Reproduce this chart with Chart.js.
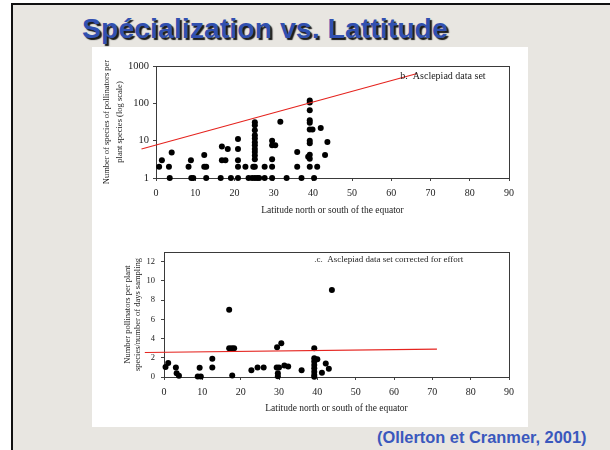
<!DOCTYPE html>
<html>
<head>
<meta charset="utf-8">
<script src="https://cdn.jsdelivr.net/npm/chart.js@4.4.1/dist/chart.umd.min.js"></script>
<style>
  html, body { margin: 0; padding: 0; }
  body { width: 610px; height: 450px; position: relative; overflow: hidden; background: #fff; }
  #slide { position: absolute; left: 11px; top: 3px; width: 640px; height: 480px;
           background: #e8e6e1; border-left: 2px solid #111; border-top: 2px solid #111; }
  #title { position: absolute; left: 82px; top: 14px; margin: 0; white-space: nowrap;
           font: bold 28.5px "Liberation Sans", Arial, sans-serif; line-height: 1;
           color: #3150b0; text-shadow: 2px 2px 1px #1a1a1a; }
  #panel { position: absolute; left: 92px; top: 47px; width: 436px; height: 380px; background: #fff; }
  #cite { position: absolute; left: 377px; top: 429px; white-space: nowrap;
          font: bold 16.4px "Liberation Sans", Arial, sans-serif; line-height: 1; color: #3a58bd; }
  canvas { position: absolute; }
</style>
</head>
<body>
<div id="slide"></div>
<div id="title">Spécialization vs. Lattitude</div>
<div id="panel"></div>
<canvas id="topChart" width="436" height="172" style="left:92px;top:50px"></canvas>
<canvas id="botChart" width="436" height="180" style="left:92px;top:240px"></canvas>
<div id="cite">(Ollerton et Cranmer, 2001)</div>

<script>
// b. Asclepiad data set (log scale)
const topLat = [
  0.8, 1.5, 3.3, 3.5, 4, 8.3, 8.9, 9, 9.5, 12.3, 12.3, 12.8, 12.8,
  16.8, 16.8, 17.7, 18.3, 16.5, 19.1, 20.9, 20.9, 20.9, 20.9, 20.9,
  22.8, 23.6, 24.5, 24.8,
  25.2, 25.2, 25.2, 25.2, 25.2, 25.2, 25.2, 25.2, 25.2, 25.2, 25.2, 25.2, 25.2,
  25.8, 26.3, 27.7, 27.7, 29.6, 29.6, 30.4, 29.6, 29.6, 29.6, 31.7, 33.3,
  36, 36, 37.1,
  39.2, 39.2, 39.2, 39.2, 39.2, 39.2, 39.2, 39.2, 39.2, 39.2, 39.2,
  39.9, 38.8, 40.3, 41.1, 42, 43.1, 43.7
];
const topSpecies = [
  2, 3, 2, 1, 4.8, 2, 3, 1, 1, 4.1, 2, 2, 1,
  7, 3, 3, 6, 1, 1, 11, 6, 3, 2, 1,
  2, 1, 1, 2,
  31, 26, 19, 14, 11.5, 9, 7.5, 6, 5, 4, 3.2, 2, 1,
  1, 1, 2, 1, 10, 7.5, 7.5, 3.2, 2, 1, 32, 1,
  5, 2, 1,
  120, 105, 65, 35, 30, 20, 10, 8.5, 4.2, 3.3, 2,
  20, 3.7, 1, 2, 22, 4.1, 9.2
];
const topFitLat = [-3.7, 66.6];
const topFitSpecies = [6.0, 627];
const topXTicks = [0, 10, 20, 30, 40, 50, 60, 70, 80, 90];
const topYTicks = [1, 10, 100, 1000];

// c. Asclepiad data set corrected for effort
const botLat = [
  0.4, 1.1, 3.1, 3.3, 3.9, 8.8, 9.3, 9.6, 12.6, 12.6,
  17, 17, 17.7, 18.3, 17.8, 22.8, 24.4, 26,
  29.5, 30.6, 29.4, 30, 29.7, 29.7, 31.4, 32.4, 35.9,
  39.2, 39.2, 40, 39.2, 39.2, 39.2, 39.2, 39.2, 39.2,
  41.2, 42.2, 43, 43.8
];
const botRatio = [
  1.05, 1.45, 1.0, 0.4, 0.12, 0.05, 0.95, 0.05, 1.9, 1.0,
  7.0, 3.0, 3.0, 3.0, 0.15, 0.7, 1.0, 1.0,
  3.1, 3.5, 1.0, 1.0, 0.4, 0.08, 1.2, 1.1, 0.7,
  3.0, 1.95, 1.85, 1.6, 1.25, 0.9, 0.55, 0.2, 0.02,
  0.45, 1.4, 0.85, 9.05
];
const botFitLat = [-5, 71.2];
const botFitRatio = [2.55, 2.9];
const botXTicks = [0, 10, 20, 30, 40, 50, 60, 70, 80, 90];
const botYTicks = [0, 2, 4, 6, 8, 10, 12];

const serif = '"Liberation Serif", "Times New Roman", serif';
const ink = '#1c1c1c';

function pairs(xs, ys) {
  return xs.map((x, i) => ({ x: x, y: ys[i] }));
}

// box around the plot area, like the scanned figure
const framePlugin = {
  id: 'frame',
  beforeDatasetsDraw(chart) {
    const a = chart.chartArea;
    const ctx = chart.ctx;
    ctx.save();
    ctx.strokeStyle = '#3a3a3a';
    ctx.lineWidth = 1;
    ctx.strokeRect(Math.round(a.left) + 0.5, Math.round(a.top) + 0.5,
                   Math.round(a.width), Math.round(a.height));
    ctx.restore();
  }
};

// panel label written inside the plot
const notePlugin = {
  id: 'note',
  afterDatasetsDraw(chart, args, opts) {
    if (!opts.text) return;
    const ctx = chart.ctx;
    ctx.save();
    ctx.font = opts.size + 'px ' + serif;
    ctx.fillStyle = ink;
    ctx.textBaseline = 'middle';
    ctx.fillText(opts.text, chart.scales.x.getPixelForValue(opts.lat), chart.chartArea.top + opts.dy);
    ctx.restore();
  }
};

function dots(xs, ys) {
  return {
    data: pairs(xs, ys),
    backgroundColor: '#000',
    borderWidth: 0,
    pointRadius: 3,
    pointHoverRadius: 3,
    clip: false
  };
}

function fitLine(xs, ys) {
  return {
    data: pairs(xs, ys),
    showLine: true,
    borderColor: '#e5231e',
    borderWidth: 1.1,
    pointRadius: 0,
    clip: false
  };
}

function xAxis(ticks, height) {
  return {
    type: 'linear',
    min: ticks[0],
    max: ticks[ticks.length - 1],
    afterBuildTicks: s => { s.ticks = ticks.map(v => ({ value: v })); },
    afterFit: s => { s.height = height; },
    border: { display: false },
    grid: { drawOnChartArea: false, drawTicks: true, tickLength: 3, color: '#444' },
    ticks: { font: { family: serif, size: 10 }, color: ink, padding: 6, maxRotation: 0, autoSkip: false },
    title: {
      display: true,
      text: 'Latitude north or south of the equator',
      font: { family: serif, size: 9.5, lineHeight: 1.2 },
      color: ink,
      padding: { top: 0, bottom: 6 }
    }
  };
}

new Chart(document.getElementById('topChart'), {
  type: 'scatter',
  data: { datasets: [fitLine(topFitLat, topFitSpecies), dots(topLat, topSpecies)] },
  plugins: [framePlugin, notePlugin],
  options: {
    responsive: false,
    animation: false,
    devicePixelRatio: 1,
    layout: { padding: { left: 0, top: 16, right: 19, bottom: 0 } },
    plugins: {
      legend: { display: false },
      tooltip: { enabled: false },
      note: { text: 'b.  Asclepiad data set', lat: 62.3, dy: 10, size: 10 }
    },
    scales: {
      x: xAxis(topXTicks, 44),
      y: {
        type: 'logarithmic',
        min: 1,
        max: 1000,
        afterBuildTicks: s => { s.ticks = topYTicks.map(v => ({ value: v })); },
        afterFit: s => { s.width = 64; },
        border: { display: false },
        grid: { drawOnChartArea: false, drawTicks: true, tickLength: 3, color: '#444' },
        ticks: { font: { family: serif, size: 10.5 }, color: ink, padding: 4, callback: v => String(v) },
        title: {
          display: true,
          text: ['Number of species of pollinators per', 'plant species (log scale)'],
          font: { family: serif, size: 8.5, lineHeight: 1.45 },
          color: ink,
          padding: { top: 9, bottom: 0 }
        }
      }
    }
  }
});

new Chart(document.getElementById('botChart'), {
  type: 'scatter',
  data: { datasets: [fitLine(botFitLat, botFitRatio), dots(botLat, botRatio)] },
  plugins: [framePlugin, notePlugin],
  options: {
    responsive: false,
    animation: false,
    devicePixelRatio: 1,
    layout: { padding: { left: 0, top: 12, right: 19, bottom: 0 } },
    plugins: {
      legend: { display: false },
      tooltip: { enabled: false },
      note: { text: '.c.  Asclepiad data set corrected for effort', lat: 39.2, dy: 8, size: 9 }
    },
    scales: {
      x: xAxis(botXTicks, 43),
      y: {
        type: 'linear',
        min: 0,
        max: 13,
        afterBuildTicks: s => { s.ticks = botYTicks.map(v => ({ value: v })); },
        afterFit: s => { s.width = 72; },
        border: { display: false },
        grid: { drawOnChartArea: false, drawTicks: true, tickLength: 3, color: '#444' },
        ticks: { font: { family: serif, size: 8.5 }, color: ink, padding: 6 },
        title: {
          display: true,
          text: ['Number pollinators per plant', 'species/number of days sampling'],
          font: { family: serif, size: 8.5, lineHeight: 1.18 },
          color: ink,
          padding: { top: 31, bottom: 0 }
        }
      }
    }
  }
});
</script>
</body>
</html>
